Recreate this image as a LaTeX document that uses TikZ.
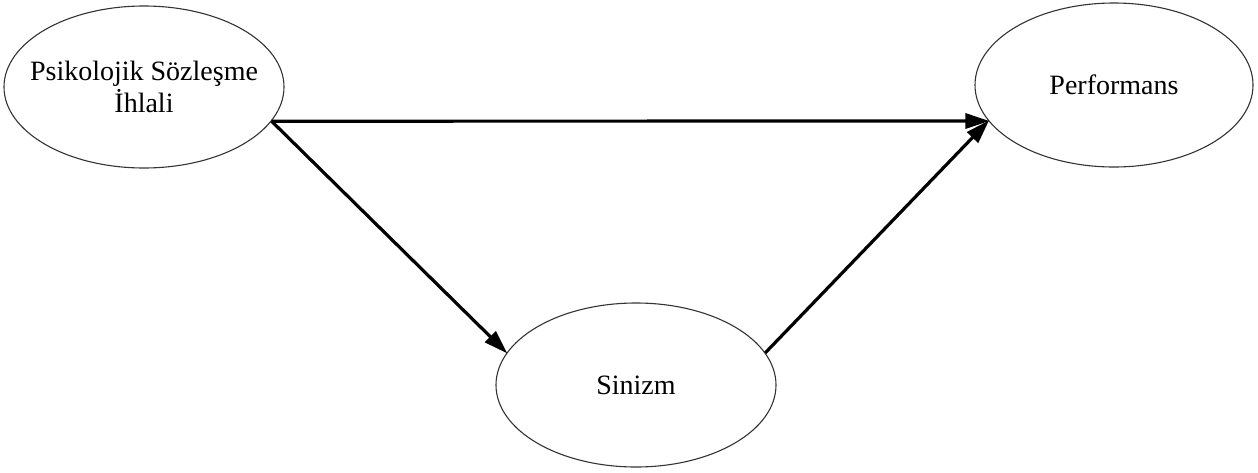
\documentclass[tikz,border=0pt]{standalone}
\usepackage{fontspec}
\setmainfont{Liberation Serif}
\usetikzlibrary{shapes.geometric,arrows.meta}
\begin{document}
\begin{tikzpicture}[x=1pt,y=-1pt,
  oval/.style={draw=black!80, line width=1.1pt, ellipse, inner sep=0pt},
  ovaltext/.style={align=center, font=\fontsize{28}{32}\selectfont, inner sep=0pt},
  conn/.style={line width=3.2pt, -{Triangle[length=24pt,width=15pt]}, shorten >=-1pt}]
\useasboundingbox (0,0) rectangle (1258,472);
\node[oval, minimum width=280pt, minimum height=162pt,
  label={[ovaltext, name=psitext]center:{Psikolojik Sözleşme\\İhlali}}] (psi) at (144,87) {};
\node[oval, minimum width=278pt, minimum height=164pt,
  label={[ovaltext, name=perftext]center:{Performans}}] (perf) at (1114,85) {};
\node[oval, minimum width=280pt, minimum height=164pt,
  label={[ovaltext, name=sintext]center:{Sinizm}}] (sin) at (636,385) {};
\draw[conn] (psi.-15) -- (perf.-164);
\draw[conn] (psi.-15) -- (sin.166);
\draw[conn] (sin.14) -- (perf.-164);
\end{tikzpicture}
\end{document}
